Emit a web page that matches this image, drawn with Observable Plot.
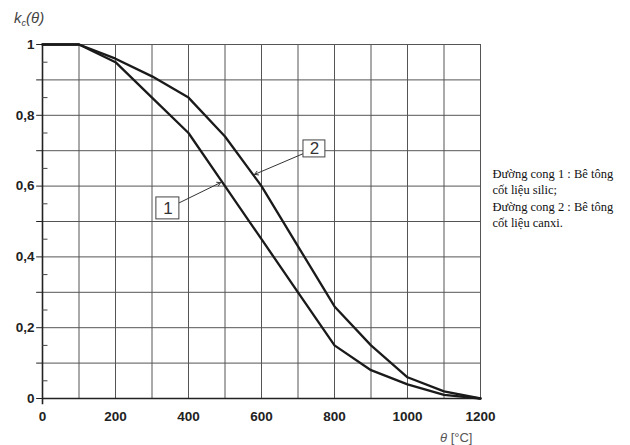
<!DOCTYPE html>
<html><head><meta charset="utf-8">
<script src="https://cdn.jsdelivr.net/npm/d3@7"></script>
<script src="https://cdn.jsdelivr.net/npm/@observablehq/plot@0.6"></script>
<style>body{margin:0;background:#fff} #c{position:relative;width:630px;height:445px}</style>
</head><body><div id="c"></div>
<script>
const temps  = [0,100,200,300,400,500,600,700,800,900,1000,1100,1200];
const curve1 = [1,1,0.95,0.85,0.75,0.60,0.45,0.30,0.15,0.08,0.04,0.01,0];
const curve2 = [1,1,0.96,0.91,0.85,0.74,0.60,0.43,0.26,0.15,0.06,0.02,0];
const xTicks = [0,200,400,600,800,1000,1200];
const yTicks = [0,0.2,0.4,0.6,0.8,1];
const yTickLabels = ["0","0,2","0,4","0,6","0,8","1"];
const xGrid = d3.range(0,1201,100);
const yGrid = d3.range(0,11).map(i=>i/10);
const yMinor = d3.range(0,10).map(i=>i/10+0.05);
const curveLabels = ["1","2"];
const labelBoxes = [{x1:312,x2:375,y1:0.506,y2:0.568},{x1:715,x2:775,y1:0.681,y2:0.729}];
const labelArrows = [{x1:375,y1:0.553,x2:488,y2:0.61},{x1:715,y1:0.692,x2:581,y2:0.633}];
const legendLines = ["Đường cong 1 : Bê tông","cốt liệu silic;","Đường cong 2 : Bê tông","cốt liệu canxi."];

const rows = [];
temps.forEach((t,i)=>{rows.push({t,v:curve1[i],s:"1"});rows.push({t,v:curve2[i],s:"2"});});
const boxes = labelBoxes.map((b,i)=>({...b,label:curveLabels[i]}));

const plot = Plot.plot({
  width:630, height:445,
  marginLeft:42, marginRight:150, marginTop:44, marginBottom:47,
  x:{domain:[0,1200], axis:null},
  y:{domain:[0,1], axis:null},
  style:{background:"#fff"},
  marks:[
    Plot.ruleX(xGrid,{stroke:"#555",strokeWidth:1}),
    Plot.ruleY(yGrid,{stroke:"#555",strokeWidth:1}),
    Plot.ruleX([0],{y1:-0.018,y2:1,stroke:"#222",strokeWidth:1.6}),
    Plot.ruleY([0],{stroke:"#222",strokeWidth:1.6}),
    Plot.ruleY(yGrid,{x1:-16,x2:0,stroke:"#222",strokeWidth:1}),
    Plot.ruleY(yMinor,{x1:0,x2:15,stroke:"#444",strokeWidth:1}),
    Plot.line(rows,{x:"t",y:"v",z:"s",stroke:"#1a1a1a",strokeWidth:2.3}),
    Plot.arrow(labelArrows,{x1:"x1",y1:"y1",x2:"x2",y2:"y2",stroke:"#333",strokeWidth:1,headLength:6,bend:0}),
    Plot.rect(boxes,{x1:"x1",x2:"x2",y1:"y1",y2:"y2",fill:"#fff",stroke:"#444",strokeWidth:1}),
    Plot.text(boxes,{x:d=>(d.x1+d.x2)/2,y:d=>(d.y1+d.y2)/2,text:"label",fontSize:17,fill:"#333",fontFamily:"Liberation Sans, Arial, sans-serif"}),
    Plot.text(yTicks,{x:0,y:d=>d,text:(d,i)=>yTickLabels[i],dx:-8,textAnchor:"end",fontSize:13.5,fontWeight:"bold",fill:"#222",fontFamily:"Liberation Sans, Arial, sans-serif"}),
    Plot.text(xTicks,{x:d=>d,y:0,text:d=>String(d),dy:18,fontSize:13.5,fontWeight:"bold",fill:"#222",fontFamily:"Liberation Sans, Arial, sans-serif"}),
    Plot.text([legendLines.join("\n")],{frameAnchor:"top-right",dx:12,dy:122,textAnchor:"start",lineAnchor:"top",lineHeight:1.3,fontSize:12.5,fill:"#111",fontFamily:"Liberation Serif, Times New Roman, serif"})
  ]
});
document.getElementById("c").appendChild(plot);
const svg = d3.select(plot);
const t1 = svg.append("text").attr("x",14).attr("y",23).attr("text-anchor","start").attr("font-family","Liberation Sans, Arial, sans-serif").attr("font-size",15).attr("fill","#444").attr("font-style","italic");
t1.append("tspan").text("k");
t1.append("tspan").attr("font-size",9).attr("dy",3).text("c");
t1.append("tspan").attr("dy",-3).text("(θ)");
const t2 = svg.append("text").attr("x",440).attr("y",442).attr("text-anchor","start").attr("font-family","Liberation Sans, Arial, sans-serif").attr("font-size",13).attr("fill","#555");
t2.append("tspan").attr("font-style","italic").text("θ");
t2.append("tspan").text(" [°C]");
</script></body></html>
